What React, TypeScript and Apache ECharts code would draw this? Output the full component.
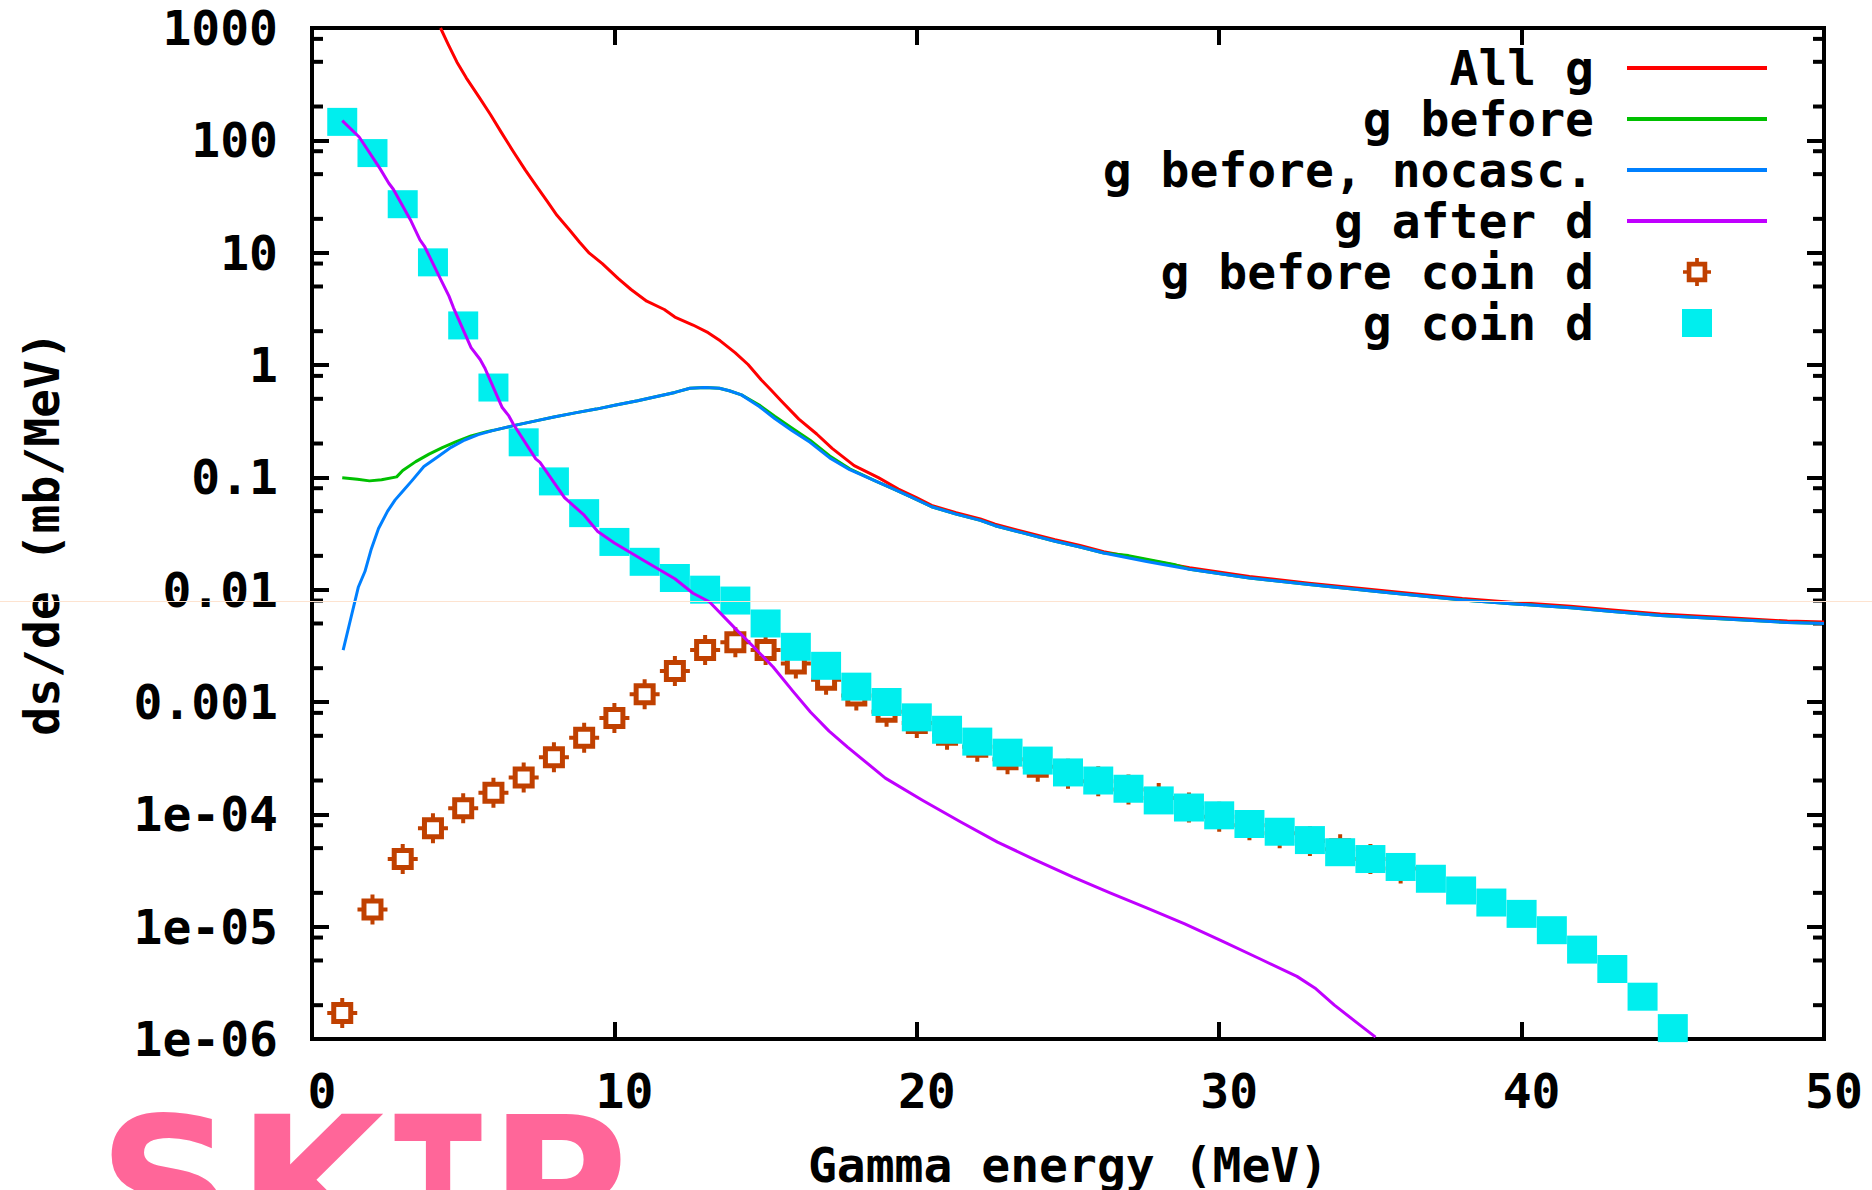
import React, { useEffect, useRef } from "react";
import * as echarts from "echarts";

const FONT = '"DejaVu Sans Mono", "Liberation Mono", monospace';

// ---- axis tick labels ----
const xTickLabels = ["0", "10", "20", "30", "40", "50"];
const yTickLabels = ["1e-06", "1e-05", "1e-04", "0.001", "0.01", "0.1", "1", "10", "100", "1000"];
const yMinorMultipliers = [2, 5, 8];
const yDecades = [-6, -5, -4, -3, -2, -1, 0, 1, 2];

// ---- series names / colours ----
const seriesNames = ["All g", "g before", "g before, nocasc.", "g after d", "g before coin d", "g coin d"];
const seriesColors = ["#ff0000", "#00c000", "#0080ff", "#c000ff", "#c04000", "#00eeee"];

// ---- line series: [energy MeV, ds/de] ----
const allG: [number, number][] = [
  [4.25, 1000], [4.5, 720], [4.79, 499], [5.1, 360], [5.52, 244], [5.9, 170], [6.25, 119],
  [6.65, 80], [7.05, 54.6], [7.4, 40], [7.78, 28.6], [8.1, 21.5], [8.51, 16], [8.85, 12.4],
  [9.17, 9.9], [9.6, 8.0], [10.12, 5.9], [10.55, 4.7], [11.07, 3.7], [11.65, 3.12], [12.0, 2.67],
  [12.6, 2.27], [13.1, 1.94], [13.5, 1.64], [13.99, 1.29], [14.42, 1.01], [14.86, 0.736],
  [15.18, 0.6], [15.52, 0.479], [16.1, 0.33], [16.69, 0.243], [17.2, 0.181], [17.93, 0.127],
  [18.73, 0.0993], [19.39, 0.0787], [19.97, 0.0664], [20.49, 0.0563], [21.3, 0.0484],
  [22.1, 0.0426], [22.59, 0.0382], [23.5, 0.033], [24.57, 0.0278], [25.4, 0.0247],
  [26.18, 0.0218], [27.6, 0.0184], [29.02, 0.0157], [31.0, 0.0131], [32.97, 0.01143],
  [35.45, 0.0098], [38.04, 0.00834], [39.65, 0.00773], [41.62, 0.00711], [43.0, 0.00659],
  [44.59, 0.00608], [46.56, 0.00567], [48.79, 0.00525], [50, 0.00515],
];

const gBefore: [number, number][] = [
  [1.0, 0.099], [1.5, 0.096], [1.9, 0.093], [2.3, 0.095], [2.8, 0.101], [3.0, 0.115],
  [3.43, 0.138], [3.87, 0.161], [4.31, 0.184], [4.75, 0.207], [5.26, 0.234], [5.78, 0.255],
  [6.0, 0.262], [6.7, 0.29], [7.4, 0.318], [8.0, 0.345], [8.7, 0.375], [9.4, 0.405],
  [10.05, 0.44], [10.77, 0.48], [11.4, 0.525], [12.0, 0.57], [12.5, 0.62], [13.0, 0.63],
  [13.47, 0.62], [13.8, 0.59], [14.2, 0.542], [14.79, 0.44], [15.3, 0.35], [15.88, 0.274],
  [16.47, 0.214], [17.12, 0.155], [17.78, 0.119], [18.66, 0.092], [19.24, 0.0787],
  [19.82, 0.0668], [20.49, 0.0547], [21.3, 0.047], [22.1, 0.0414], [22.59, 0.0371],
  [23.5, 0.032], [24.57, 0.027], [25.4, 0.024], [26.18, 0.0212], [27.0, 0.0201],
  [27.6, 0.0187], [28.5, 0.0168], [29.02, 0.0152], [31.0, 0.0127], [32.97, 0.0111],
  [35.45, 0.0095], [38.04, 0.0081], [39.65, 0.0075], [41.62, 0.0069], [43.0, 0.0064],
  [44.59, 0.0059], [46.56, 0.0055], [48.79, 0.0051], [50, 0.005],
];

const gBeforeNocasc: [number, number][] = [
  [1.03, 0.0029], [1.3, 0.0058], [1.53, 0.0105], [1.75, 0.0145], [1.95, 0.0225], [2.2, 0.035],
  [2.5, 0.05], [2.75, 0.063], [3.0, 0.075], [3.3, 0.093], [3.7, 0.125], [4.15, 0.152],
  [4.6, 0.185], [5.05, 0.215], [5.5, 0.24], [6.0, 0.262], [6.7, 0.29], [7.4, 0.318],
  [8.0, 0.345], [8.7, 0.375], [9.4, 0.405], [10.05, 0.44], [10.77, 0.48], [11.4, 0.525],
  [12.0, 0.57], [12.5, 0.62], [13.0, 0.63], [13.47, 0.62], [13.8, 0.59], [14.2, 0.542],
  [14.79, 0.427], [15.3, 0.334], [15.88, 0.26], [16.47, 0.205], [17.12, 0.149], [17.78, 0.117],
  [18.66, 0.092], [19.24, 0.0787], [19.82, 0.0668], [20.49, 0.0547], [21.3, 0.047],
  [22.1, 0.0414], [22.59, 0.0371], [23.5, 0.032], [24.57, 0.027], [25.4, 0.024],
  [26.18, 0.0212], [27.6, 0.0178], [29.02, 0.0152], [31.0, 0.0127], [32.97, 0.0111],
  [35.45, 0.0095], [38.04, 0.0081], [39.65, 0.0075], [41.62, 0.0069], [43.0, 0.0064],
  [44.59, 0.0059], [46.56, 0.0055], [48.79, 0.0051], [50, 0.005],
];

const gAfterD: [number, number][] = [
  [1.0, 150], [1.56, 107], [2.25, 56], [2.54, 41.5], [2.69, 36.7], [3.28, 19], [3.57, 13],
  [3.72, 11.4], [4.26, 5.75], [4.53, 4.1], [4.68, 3.23], [5.26, 1.43], [5.56, 1.12],
  [5.71, 0.946], [6.29, 0.418], [6.51, 0.352], [6.66, 0.297], [7.4, 0.146], [7.54, 0.136],
  [8.35, 0.066], [9.0, 0.046], [9.45, 0.033], [10.0, 0.026], [11.0, 0.018], [12.0, 0.0125],
  [12.6, 0.0093], [13.14, 0.0078], [14.0, 0.0045], [14.6, 0.0031], [15.25, 0.00205],
  [15.9, 0.00125], [16.49, 0.00081], [17.1, 0.00055], [17.72, 0.000395], [18.96, 0.00021],
  [20.2, 0.000133], [21.44, 0.000086], [22.67, 0.0000566], [23.91, 0.0000394],
  [25.15, 0.0000277], [26.39, 0.00002], [27.62, 0.0000146], [28.86, 0.0000106],
  [30.1, 0.00000743], [31.34, 0.00000518], [32.57, 0.00000361], [33.2, 0.0000028],
  [33.81, 0.000002], [34.55, 0.0000014], [35.17, 0.00000104],
];

// ---- point series ----
const beforeCoinE = [
  1, 2, 3, 4, 5, 6, 7, 8, 9, 10, 11, 12, 13, 14, 15, 16, 17, 18, 19, 20, 21, 22, 23, 24, 25,
  26, 27, 28, 29, 30, 31, 32, 33, 34, 35, 36,
];
const beforeCoinV = [
  1.7e-6, 1.42e-5, 4.0e-5, 7.5e-5, 1.13e-4, 1.56e-4, 2.13e-4, 3.23e-4, 4.8e-4, 7.2e-4, 1.17e-3,
  1.89e-3, 2.9e-3, 3.4e-3, 2.9e-3, 2.2e-3, 1.58e-3, 1.14e-3, 8.2e-4, 6.5e-4, 5.1e-4, 4.0e-4,
  3.1e-4, 2.65e-4, 2.3e-4, 1.97e-4, 1.66e-4, 1.4e-4, 1.15e-4, 9.5e-5, 8.0e-5, 6.8e-5, 5.8e-5,
  4.9e-5, 4.0e-5, 3.3e-5,
];

const coinE = [
  1, 2, 3, 4, 5, 6, 7, 8, 9, 10, 11, 12, 13, 14, 15, 16, 17, 18, 19, 20, 21, 22, 23, 24, 25,
  26, 27, 28, 29, 30, 31, 32, 33, 34, 35, 36, 37, 38, 39, 40, 41, 42, 43, 44, 45,
];
const coinV = [
  146, 77, 27, 8.2, 2.25, 0.63, 0.205, 0.092, 0.048, 0.0266, 0.0177, 0.0127, 0.01, 0.008,
  0.005, 0.0031, 0.0021, 0.00137, 0.001, 0.00073, 0.000566, 0.000444, 0.000354, 0.000301,
  0.000236, 0.0002, 0.000169, 0.000133, 0.000115, 0.000098, 0.000082, 0.00007, 0.000059,
  0.000046, 0.00004, 0.000034, 0.0000267, 0.000021, 0.0000164, 0.000013, 0.0000093,
  0.00000625, 0.0000042, 0.00000238, 0.00000125,
];

const markerPath =
  "path://M4,4H26V26H4Z M9,9V21H21V9Z M13,0H17V4H13Z M13,26H17V30H13Z M0,13H4V17H0Z M26,13H30V17H26Z";
const squarePath = "path://M0,0H30V28H0Z";
const legendLineIcon = "path://M0,0H140V4H0Z";

const textBase = { fontFamily: FONT, fontWeight: "bold" as const, fontSize: 48, color: "#000" };

function buildOption() {
  const minorTickData: [number, number][] = [];
  yDecades.forEach((d) => yMinorMultipliers.forEach((m) => minorTickData.push([0, m * Math.pow(10, d)])));

  const lineSeries = (name: string, color: string, data: [number, number][]) => ({
    name,
    type: "line",
    data,
    color,
    symbol: "none",
    showSymbol: false,
    smooth: false,
    lineStyle: { color, width: 3, join: "round" },
    itemStyle: { color },
    clip: true,
    silent: true,
  });

  const axisLine = { show: true, onZero: false, lineStyle: { color: "#000", width: 4 } };
  const axisTick = { show: true, inside: true, length: 17, lineStyle: { color: "#000", width: 4 } };
  const wmStyle = {
    fontFamily: '"DejaVu Sans"',
    fontWeight: "bold",
    fontSize: 190,
    lineHeight: 140,
    fill: "#ff6699",
    verticalAlign: "middle",
  };

  return {
    animation: false,
    backgroundColor: "#ffffff",
    grid: {
      left: 312,
      top: 28,
      right: 48,
      bottom: 151,
      show: true,
      borderColor: "#000",
      borderWidth: 4,
      backgroundColor: "transparent",
      containLabel: false,
      outerBoundsMode: "none",
    },
    legend: {
      orient: "vertical",
      align: "right",
      right: 105,
      top: 44,
      padding: 0,
      itemWidth: 140,
      itemHeight: 28,
      itemGap: 3,
      selectedMode: false,
      textStyle: { ...textBase, padding: [0, 28, 0, 0] },
      data: [
        { name: seriesNames[0], icon: legendLineIcon },
        { name: seriesNames[1], icon: legendLineIcon },
        { name: seriesNames[2], icon: legendLineIcon },
        { name: seriesNames[3], icon: legendLineIcon },
        { name: seriesNames[4], icon: markerPath },
        { name: seriesNames[5], icon: squarePath },
      ],
    },
    xAxis: [
      {
        type: "value",
        min: 0,
        max: 50,
        interval: 10,
        position: "bottom",
        axisLine,
        axisTick,
        splitLine: { show: false },
        axisLabel: {
          ...textBase,
          margin: 52,
          verticalAlign: "middle",
          padding: [0, 0, 0, 20],
          formatter: (v: number) => xTickLabels[Math.round(v / 10)] ?? "",
        },
        name: "Gamma energy (MeV)",
        nameLocation: "middle",
        nameGap: 126,
        nameTextStyle: { ...textBase, verticalAlign: "middle" },
      },
      {
        type: "value",
        min: 0,
        max: 50,
        interval: 10,
        position: "top",
        axisLine,
        axisTick,
        splitLine: { show: false },
        axisLabel: { show: false },
      },
    ],
    yAxis: [
      {
        type: "log",
        logBase: 10,
        min: 1e-6,
        max: 1000,
        position: "left",
        axisLine,
        axisTick,
        splitLine: { show: false },
        minorTick: { show: false },
        axisLabel: {
          ...textBase,
          margin: 34,
          formatter: (v: number) => yTickLabels[Math.round(Math.log10(v)) + 6] ?? "",
        },
        name: "ds/de (mb/MeV)",
        nameLocation: "middle",
        nameGap: 270,
        nameRotate: 90,
        nameTextStyle: { ...textBase, verticalAlign: "middle" },
      },
      {
        type: "log",
        logBase: 10,
        min: 1e-6,
        max: 1000,
        position: "right",
        axisLine,
        axisTick,
        splitLine: { show: false },
        axisLabel: { show: false },
      },
    ],
    series: [
      {
        name: "minorTicks",
        type: "custom",
        silent: true,
        clip: false,
        data: minorTickData,
        renderItem: (_p: any, api: any) => {
          const v = api.value(1);
          const l = api.coord([0, v]);
          const r = api.coord([50, v]);
          return {
            type: "group",
            children: [
              { type: "line", shape: { x1: l[0], y1: l[1], x2: l[0] + 11, y2: l[1] }, style: { stroke: "#000", lineWidth: 4 } },
              { type: "line", shape: { x1: r[0], y1: r[1], x2: r[0] - 11, y2: r[1] }, style: { stroke: "#000", lineWidth: 4 } },
            ],
          };
        },
      },
      lineSeries(seriesNames[0], seriesColors[0], allG),
      lineSeries(seriesNames[1], seriesColors[1], gBefore),
      lineSeries(seriesNames[2], seriesColors[2], gBeforeNocasc),
      lineSeries(seriesNames[3], seriesColors[3], gAfterD),
      {
        name: seriesNames[4],
        type: "scatter",
        color: seriesColors[4],
        symbol: markerPath,
        symbolSize: 30,
        itemStyle: { color: seriesColors[4], opacity: 1 },
        data: beforeCoinE.map((e, i) => [e, beforeCoinV[i]]),
        silent: true,
      },
      {
        name: seriesNames[5],
        type: "scatter",
        color: seriesColors[5],
        symbol: "rect",
        symbolSize: [30, 28],
        itemStyle: { color: seriesColors[5], opacity: 1 },
        data: coinE.map((e, i) => [e, coinV[i]]),
        silent: true,
      },
    ],
    graphic: [
      {
        type: "line",
        shape: { x1: 0, y1: 601.5, x2: 1872, y2: 601.5 },
        style: { stroke: "#fde3d0", lineWidth: 1 },
        z: 100,
        silent: true,
      },
      {
        type: "group",
        silent: true,
        children: [
          { type: "text", x: 98, y: 1187, style: { ...wmStyle, text: "S", align: "left" } },
          { type: "text", x: 237, y: 1187, style: { ...wmStyle, text: "K", align: "left" } },
          { type: "text", x: 438, y: 1187, scaleX: 0.68, style: { ...wmStyle, text: "T", align: "center" } },
          { type: "text", x: 489, y: 1187, style: { ...wmStyle, text: "P", align: "left" } },
        ],
      },
    ],
  };
}

export default function App() {
  const ref = useRef<HTMLDivElement>(null);
  useEffect(() => {
    document.body.style.margin = "0";
    const chart = echarts.init(ref.current as HTMLDivElement, undefined, { renderer: "svg", width: 1872, height: 1190 });
    chart.setOption(buildOption() as any);
    return () => chart.dispose();
  }, []);
  return <div ref={ref} style={{ width: 1872, height: 1190, background: "#ffffff" }} />;
}
